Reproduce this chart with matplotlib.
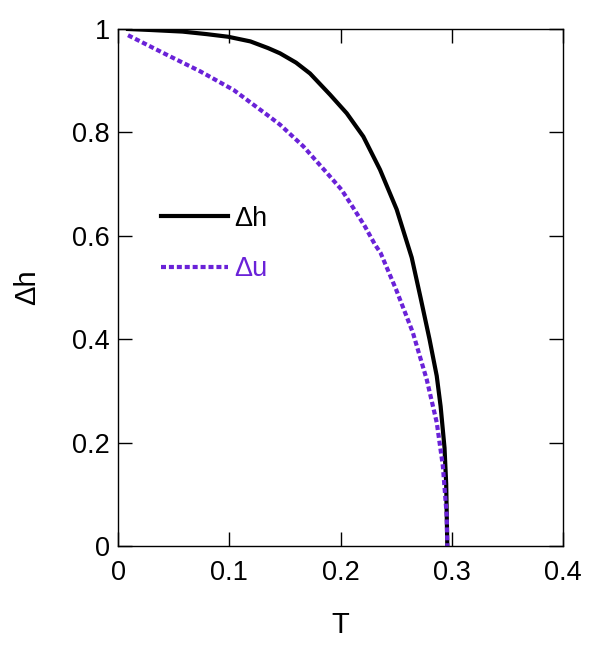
import matplotlib.pyplot as plt

plt.rcParams['font.family'] = ['Liberation Sans', 'DejaVu Sans']

# order parameter curves
t_h = [0.009, 0.03, 0.058, 0.08, 0.099, 0.119, 0.135, 0.1456, 0.16, 0.1726,
       0.1906, 0.2056, 0.2205, 0.2355, 0.2505, 0.264, 0.272, 0.28, 0.2865,
       0.29, 0.2935, 0.295, 0.2955, 0.296]
dh = [1.0, 0.998, 0.995, 0.99, 0.985, 0.976, 0.963, 0.953, 0.935, 0.914,
      0.873, 0.837, 0.792, 0.728, 0.651, 0.558, 0.48, 0.40, 0.329,
      0.27, 0.19, 0.12, 0.06, 0.0]

t_u = [0.009, 0.044, 0.074, 0.104, 0.134, 0.1456, 0.1666, 0.1876, 0.201, 0.2115,
       0.222, 0.231, 0.236, 0.25, 0.265, 0.2775, 0.2865, 0.292, 0.2955, 0.296]
du = [0.988, 0.950, 0.918, 0.882, 0.834, 0.815, 0.773, 0.722, 0.689, 0.654,
      0.618, 0.583, 0.567, 0.496, 0.413, 0.322, 0.239, 0.155, 0.058, 0.0]

xticks = [0, 0.1, 0.2, 0.3, 0.4]
xlabels = ['0', '0.1', '0.2', '0.3', '0.4']
yticks = [0, 0.2, 0.4, 0.6, 0.8, 1.0]
ylabels = ['0', '0.2', '0.4', '0.6', '0.8', '1']

purple = '#6A22D8'

fig = plt.figure(figsize=(5.9, 6.5), dpi=100)
ax = fig.add_axes([118 / 590, 104 / 650, 445 / 590, 517 / 650])

ax.plot(t_h, dh, color='black', lw=3, label='\u0394h')
ax.plot(t_u, du, color=purple, lw=3, dashes=(1.2, 0.7), label='\u0394u')

ax.set_xlim(0, 0.4)
ax.set_ylim(0, 1)
ax.set_xticks(xticks, xlabels)
ax.set_yticks(yticks, ylabels)
ax.tick_params(direction='in', length=10, width=1, labelsize=19.5,
               top=True, right=True)
ax.tick_params(axis='x', pad=10)
ax.tick_params(axis='y', pad=6)
for s in ax.spines.values():
    s.set_linewidth(1)

ax.set_xlabel('T', fontsize=21, labelpad=18)
ax.set_ylabel('\u0394h', fontsize=21, labelpad=22)

leg = ax.legend(loc='upper left', bbox_to_anchor=(0.067, 0.684), frameon=False,
                fontsize=19.5, handlelength=2.45, handletextpad=0.25,
                borderpad=0, labelspacing=0.9)
for txt, c in zip(leg.get_texts(), ['black', purple]):
    txt.set_color(c)

fig.savefig('out.png', dpi=100)
